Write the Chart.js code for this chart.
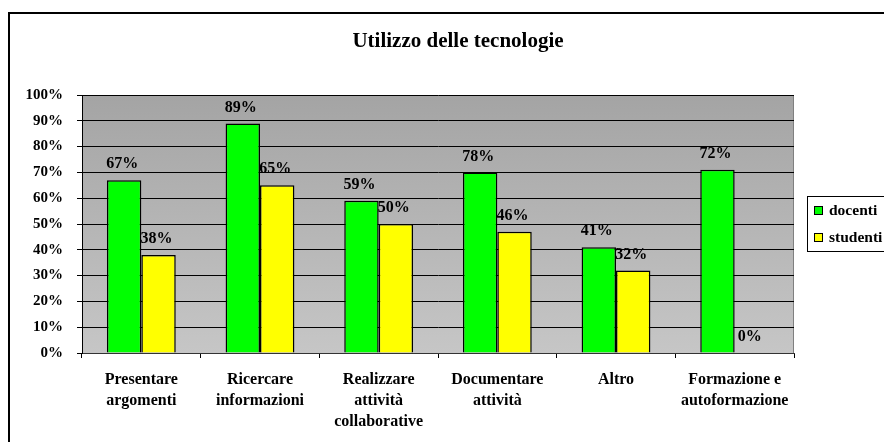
<!DOCTYPE html>
<html>
<head>
<meta charset="utf-8">
<script src="https://cdn.jsdelivr.net/npm/chart.js@4"></script>
<style>
  body { margin: 0; background: #fff; }
  canvas { display: block; }
</style>
</head>
<body>
<canvas id="myChart" width="884" height="442"></canvas>
<script>
// data
const categories = [
  ['Presentare', 'argomenti'],
  ['Ricercare', 'informazioni'],
  ['Realizzare', 'attività', 'collaborative'],
  ['Documentare', 'attività'],
  ['Altro'],
  ['Formazione e', 'autoformazione']
]
const docenti = [67, 89, 59, 70, 41, 71]
const studenti = [38, 65, 50, 47, 32, 0]
// the printed labels don't always match the bar height
const docentiLabels = ['67%', '89%', '59%', '78%', '41%', '72%']
const studentiLabels = ['38%', '65%', '50%', '46%', '32%', '0%']
const yTicks = [0, 10, 20, 30, 40, 50, 60, 70, 80, 90, 100]

const FONT = '"Liberation Serif", "Times New Roman", serif'

const decor = {
  id: 'decor',
  beforeDraw(chart) {
    const ctx = chart.ctx
    const a = chart.chartArea
    ctx.save()
    const grad = ctx.createLinearGradient(0, a.top, 0, a.bottom)
    grad.addColorStop(0, '#a4a4a4')
    grad.addColorStop(1, '#c6c6c6')
    ctx.fillStyle = grad
    ctx.fillRect(a.left, a.top, a.right - a.left, a.bottom - a.top)
    ctx.strokeStyle = '#808080'
    ctx.lineWidth = 1
    ctx.beginPath()
    ctx.moveTo(a.right - 0.5, a.top)
    ctx.lineTo(a.right - 0.5, a.bottom)
    ctx.stroke()
    ctx.restore()
  },
  afterDraw(chart) {
    const ctx = chart.ctx
    ctx.save()
    // outer frame
    ctx.strokeStyle = '#000'
    ctx.lineWidth = 2
    ctx.strokeRect(9, 13, 1000, 1000)

    // title
    ctx.fillStyle = '#000'
    ctx.font = 'bold 21px ' + FONT
    ctx.textAlign = 'center'
    ctx.textBaseline = 'middle'
    ctx.fillText('Utilizzo delle tecnologie', 458, 42)

    // value labels
    ctx.font = 'bold 16px ' + FONT
    const labelSets = [docentiLabels, studentiLabels]
    chart.data.datasets.forEach((ds, i) => {
      chart.getDatasetMeta(i).data.forEach((bar, j) => {
        ctx.fillText(labelSets[i][j], bar.x - 2, bar.y - 16)
      })
    })

    // legend
    ctx.font = 'bold 15.5px ' + FONT
    ctx.fillStyle = '#fff'
    ctx.fillRect(807, 196, 100, 55)
    ctx.lineWidth = 1
    ctx.strokeStyle = '#000'
    ctx.strokeRect(807.5, 196.5, 100, 55)
    ctx.textAlign = 'left'
    const rows = [211, 238]
    chart.data.datasets.forEach((ds, i) => {
      ctx.fillStyle = ds.backgroundColor
      ctx.fillRect(814, rows[i] - 5, 9, 9)
      ctx.strokeRect(814.5, rows[i] - 4.5, 8, 8)
      ctx.fillStyle = '#000'
      ctx.fillText(ds.label, 829, rows[i])
    })
    ctx.restore()
  }
}

function mainEvent() {
  const config = {
    type: 'bar',
    data: {
      labels: categories,
      datasets: [
        { label: 'docenti', data: docenti, backgroundColor: '#00ff00', borderColor: '#000', borderWidth: 1.5 },
        { label: 'studenti', data: studenti, backgroundColor: '#ffff00', borderColor: '#000', borderWidth: 1.5 }
      ]
    },
    options: {
      responsive: false,
      animation: false,
      devicePixelRatio: 1,
      layout: { padding: { left: 0, right: 90, top: 95, bottom: 0 } },
      categoryPercentage: 0.58,
      barPercentage: 1,
      plugins: {
        legend: { display: false },
        title: { display: false },
        tooltip: { enabled: false }
      },
      scales: {
        x: {
          afterFit: (scale) => { scale.height = 89 },
          grid: { offset: true, drawOnChartArea: false, drawTicks: true, tickLength: 5, color: '#000' },
          border: { color: '#333', width: 1 },
          ticks: {
            color: '#000',
            padding: 11,
            maxRotation: 0,
            autoSkip: false,
            font: { family: FONT, size: 16, weight: 'bold', lineHeight: 1.31 }
          }
        },
        y: {
          min: 0,
          max: 100,
          afterFit: (scale) => { scale.width = 82 },
          afterBuildTicks: (scale) => { scale.ticks = yTicks.map(v => ({ value: v })) },
          grid: { color: '#000', lineWidth: 1, tickLength: 5 },
          border: { color: '#000', width: 1 },
          ticks: {
            color: '#000',
            padding: 14,
            font: { family: FONT, size: 15, weight: 'bold' },
            callback: (v) => v + '%'
          }
        }
      }
    },
    plugins: [decor]
  }
  return new Chart(document.getElementById('myChart'), config)
}

document.addEventListener('DOMContentLoaded', () => mainEvent())
</script>
</body>
</html>
